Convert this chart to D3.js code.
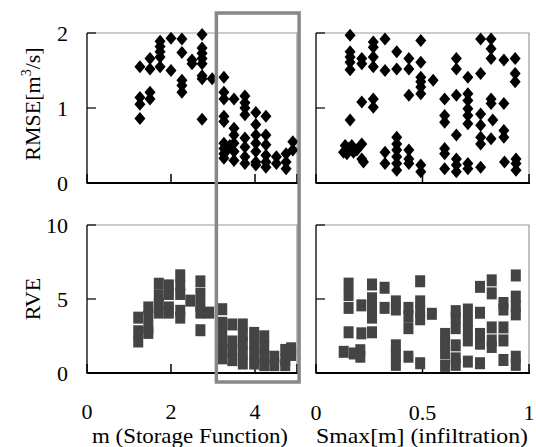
<!DOCTYPE html>
<html>
<head>
<meta charset="utf-8">
<script src="https://cdn.jsdelivr.net/npm/d3@7"></script>
<style>
body{margin:0;background:#fff;}
</style>
</head>
<body>
<div id="graph"></div>
<script>
// m (storage function) vs RMSE
var tlM = [1.26,1.26,1.26,1.26, 1.50,1.50,1.50,1.50, 1.74,1.74,1.74,1.74,1.74, 2.0,2.0,
	2.26,2.26,2.26,2.26,2.26, 2.5,2.5, 2.74,2.74,2.74,2.74,2.74,2.74,2.74,2.74, 2.98,
	3.26,3.26,3.26,3.26,3.26,3.26,3.26,3.26,3.26, 3.35,3.4,
	3.5,3.5,3.5,3.5,3.5,3.5, 3.76,3.76,3.76,3.76,3.76,3.76,3.76,3.76,
	4.02,4.02,4.02,4.02,4.02,4.02,4.02, 4.26,4.26,4.26,4.26,4.26,4.26,
	4.51,4.51, 4.74,4.74,4.74, 4.9,4.9];
var tlRMSE = [1.55,1.14,1.05,0.86, 1.66,1.52,1.21,1.12, 1.89,1.82,1.75,1.68,1.55, 1.93,1.50,
	1.92,1.74,1.37,1.30,1.21, 1.64,1.59, 1.98,1.80,1.73,1.66,1.59,1.43,1.39,0.85, 1.39,
	1.41,1.21,1.12,0.89,0.82,0.53,0.46,0.39,0.33, 0.45,0.50,
	1.12,0.73,0.64,0.53,0.42,0.30, 1.16,1.07,1.00,0.91,0.60,0.48,0.35,0.26,
	0.94,0.78,0.64,0.53,0.42,0.28,0.24, 0.89,0.64,0.51,0.37,0.28,0.21,
	0.35,0.26, 0.39,0.28,0.19, 0.55,0.44];

// Smax vs RMSE
var trS = [0.160,0.160,0.160,0.160,0.160,0.160,
	0.137,0.153,0.168,0.176,0.192,0.215,0.215,0.223,0.129,0.145,
	0.215,0.215,0.215, 0.269,0.269,0.269,0.269,0.269,0.269, 0.324,0.324,0.324,0.324,
	0.379,0.379,0.379,0.379,0.379,0.379,0.379,0.379, 0.436,0.436,0.436,0.436,0.436,0.436,
	0.492,0.492,0.492,0.492,0.492,0.492,0.492,0.492, 0.55,
	0.604,0.604,0.604,0.604,0.604,0.604, 0.659,0.659,0.659,0.659,0.659,0.659,0.659,
	0.713,0.713,0.713,0.713,0.713,0.713,0.713,0.713, 0.773,0.773,0.773,0.773,0.773,0.773,0.773,
	0.822,0.822,0.822,0.822,0.822,0.822, 0.830, 0.882,0.882,0.882,0.882,
	0.935,0.935,0.935,0.939,0.939,0.939, 0.885];
var trRMSE = [1.97,1.75,1.68,1.61,1.51,0.84,
	0.50,0.46,0.50,0.41,0.44,0.52,0.32,0.28,0.41,0.39,
	1.66,1.59,1.08, 1.88,1.81,1.68,1.55,1.12,1.01, 1.92,1.50,0.41,0.26,
	1.75,1.52,0.61,0.52,0.44,0.35,0.26,0.17, 1.66,1.52,1.17,0.44,0.32,0.26,
	1.90,1.61,1.41,1.35,1.28,1.19,0.24,0.15, 1.37,
	1.12,0.90,0.81,0.46,0.39,0.19, 1.66,1.52,1.17,0.64,0.32,0.24,0.15,
	1.41,1.19,1.10,0.99,0.90,0.79,0.26,0.19, 1.92,1.46,0.92,0.77,0.61,0.52,0.21,
	1.92,1.79,1.66,1.12,1.06,0.59, 0.84, 1.64,1.06,0.70,0.61,
	1.66,1.46,1.35,0.32,0.26,0.17, 0.28];

// m vs RVE
var blM = [1.22,1.22,1.22, 1.46,1.46,1.46,1.46, 1.71,1.71,1.71,1.71, 1.95,1.95,1.95,1.95,
	2.22,2.22,2.22,2.22,2.22, 2.46, 2.70,2.70,2.70,2.70,2.70, 2.91,
	3.22,3.22,3.22,3.22,3.22,3.22, 3.46,3.46,3.46,3.46, 3.71,3.71,3.71,3.71,3.71,
	3.98,3.98,3.98,3.98, 4.22,4.22,4.22,4.22, 4.46,4.46, 4.72,4.72,4.72, 4.86,4.86];
var blRVE = [3.74,2.82,2.13, 4.43,3.85,3.05,2.71, 6.03,5.23,4.66,4.08, 5.92,5.34,4.43,4.08,
	6.6,5.92,5.34,4.20,3.74, 4.89, 6.19,5.34,4.54,4.08,2.89, 4.08,
	4.31,3.39,2.71,2.02,1.44,0.99, 3.28,2.13,1.56,0.87, 3.28,2.59,2.02,1.33,0.64,
	2.71,2.02,1.33,0.64, 2.48,1.79,1.10,0.53, 1.10,0.53, 1.56,0.87,0.53, 1.67,1.22];

// Smax vs RVE
var brS = [0.153,0.153,0.153,0.153, 0.130,0.177,0.208,0.208, 0.213,0.213,
	0.263,0.263,0.263,0.263,0.263, 0.322,0.322, 0.375,0.375,0.375,0.375,0.375,
	0.434,0.434,0.434,0.434, 0.489,0.489,0.489,0.489,0.489, 0.544,
	0.606,0.606,0.606,0.606, 0.656,0.656,0.656,0.656,0.656,0.656,
	0.713,0.713,0.713,0.713,0.713, 0.770,0.770,0.770,0.770,0.770,
	0.825,0.825,0.825,0.825,0.825, 0.880,0.880,0.880,0.880,0.880,
	0.938,0.938,0.938,0.938,0.938,0.938];
var brRVE = [6.04,5.27,4.40,2.75, 1.43,1.32,1.10,1.54, 4.57,2.68,
	5.98,5.05,4.40,3.74,2.75, 5.76,4.40, 4.84,4.29,1.87,1.21,0.55,
	4.40,3.85,3.03,1.10, 6.20,4.84,4.18,3.63,0.66, 4.00,
	2.64,1.98,1.32,0.48, 4.18,3.74,3.03,1.87,0.99,0.55,
	4.29,3.52,2.86,2.20,0.77, 5.82,4.07,2.64,1.98,0.66,
	6.26,5.38,3.08,2.20,1.76, 4.73,4.29,3.08,2.20,0.88,
	6.59,5.16,4.51,3.96,1.10,0.55];

var mTicks = [0, 2, 4];
var sTicks = [0, 0.5, 1];
var rmseTicks = [0, 1, 2];
var rveTicks = [0, 5, 10];
var highlightM = [3.08, 5.05];

var svg = d3.select("#graph").append("svg")
	.attr("width", 536)
	.attr("height", 447)
	.style("font-family", "'Times New Roman', 'Liberation Serif', Times, serif")
	.style("font-size", "22px");

var xM = d3.scaleLinear().domain([0, 5]).range([87, 297]);
var xS = d3.scaleLinear().domain([0, 1]).range([316, 529]);
var yRMSE = d3.scaleLinear().domain([0, 2]).range([183, 33]);
var yRVE = d3.scaleLinear().domain([0, 10]).range([373, 225]);

function panel(x, y, xt, yt, showY) {
	var g = svg.append("g");
	var x0 = x.range()[0], x1 = x.range()[1];
	var y0 = y.range()[0], y1 = y.range()[1];

	// gray top and right frame
	g.append("path")
		.attr("d", "M" + x0 + "," + y1 + "H" + x1 + "V" + y0)
		.attr("fill", "none")
		.attr("stroke", "#999")
		.attr("stroke-width", 1.2);

	// inward ticks
	g.selectAll(".yt").data(yt).enter().append("line")
		.attr("x1", x0).attr("x2", x0 + 9)
		.attr("y1", function(d) { return y(d); })
		.attr("y2", function(d) { return y(d); })
		.attr("stroke", "#000").attr("stroke-width", 1.2);
	g.selectAll(".xt").data(xt).enter().append("line")
		.attr("x1", function(d) { return x(d); })
		.attr("x2", function(d) { return x(d); })
		.attr("y1", y0).attr("y2", y0 - 9)
		.attr("stroke", "#000").attr("stroke-width", 1.5);

	g.append("line")
		.attr("x1", x0).attr("x2", x0).attr("y1", y1).attr("y2", y0)
		.attr("stroke", "#000").attr("stroke-width", 1.3);
	g.append("line")
		.attr("x1", x0 - 0.5).attr("x2", x1 + 1).attr("y1", y0).attr("y2", y0)
		.attr("stroke", "#000").attr("stroke-width", 2.2);

	if (showY) {
		g.selectAll(".yl").data(yt).enter().append("text")
			.attr("x", x0 - 19)
			.attr("y", function(d) { return y(d) + 8; })
			.attr("text-anchor", "end")
			.text(function(d) { return d; });
	}
	return g;
}

function diamonds(g, x, y, xs, ys) {
	g.selectAll("path.pt").data(xs).enter().append("path")
		.attr("class", "pt")
		.attr("d", "M0,-6.5L5.5,0L0,6.5L-5.5,0Z")
		.attr("transform", function(d, i) { return "translate(" + x(d) + "," + y(ys[i]) + ")"; })
		.attr("fill", "#000");
}

function squares(g, x, y, xs, ys) {
	g.selectAll("rect.pt").data(xs).enter().append("rect")
		.attr("class", "pt")
		.attr("x", function(d) { return x(d) - 5; })
		.attr("y", function(d, i) { return y(ys[i]) - 6; })
		.attr("width", 10)
		.attr("height", 12)
		.attr("fill", "#444");
}

var tl = panel(xM, yRMSE, mTicks.concat([5]), rmseTicks, true);
diamonds(tl, xM, yRMSE, tlM, tlRMSE);
var tr = panel(xS, yRMSE, sTicks, rmseTicks, false);
diamonds(tr, xS, yRMSE, trS, trRMSE);
var bl = panel(xM, yRVE, mTicks.concat([5]), rveTicks, true);
squares(bl, xM, yRVE, blM, blRVE);
var br = panel(xS, yRVE, sTicks, rveTicks, false);
squares(br, xS, yRVE, brS, brRVE);

// x tick labels under the bottom panels
svg.selectAll(".mlab").data(mTicks).enter().append("text")
	.attr("x", function(d) { return xM(d); })
	.attr("y", 419)
	.attr("text-anchor", "middle")
	.text(function(d) { return d; });
svg.selectAll(".slab").data(sTicks).enter().append("text")
	.attr("x", function(d) { return xS(d); })
	.attr("y", 420)
	.attr("text-anchor", "middle")
	.text(function(d) { return d; });

// axis titles
svg.append("text").attr("x", 190).attr("y", 443).attr("text-anchor", "middle")
	.attr("textLength", 196).attr("lengthAdjust", "spacingAndGlyphs")
	.text("m (Storage Function)");
svg.append("text").attr("x", 422).attr("y", 443).attr("text-anchor", "middle")
	.attr("textLength", 212).attr("lengthAdjust", "spacingAndGlyphs")
	.text("Smax[m] (infiltration)");

var rt = svg.append("text")
	.attr("transform", "translate(40,104) rotate(-90)")
	.attr("text-anchor", "middle");
rt.append("tspan").text("RMSE[m");
rt.append("tspan").attr("dy", -9).style("font-size", "14px").text("3");
rt.append("tspan").attr("dy", 9).text("/s]");

svg.append("text")
	.attr("transform", "translate(40,299) rotate(-90)")
	.attr("text-anchor", "middle")
	.text("RVE");

// highlighted region of m
svg.append("rect")
	.attr("x", xM(highlightM[0]))
	.attr("y", 13)
	.attr("width", xM(highlightM[1]) - xM(highlightM[0]))
	.attr("height", 369)
	.attr("fill", "none")
	.attr("stroke", "#888")
	.attr("stroke-width", 3.5);
</script>
</body>
</html>
